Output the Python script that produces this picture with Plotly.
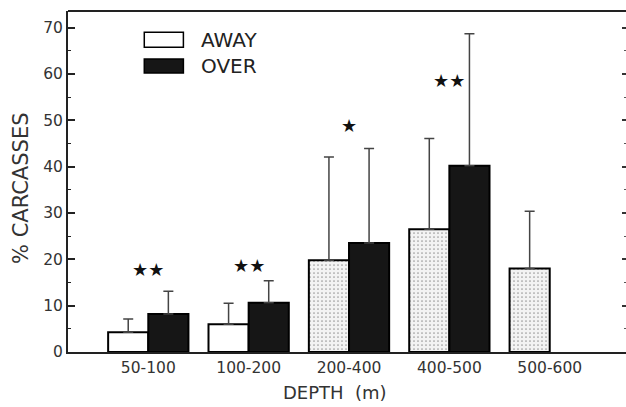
import plotly.graph_objects as go

categories = ["50-100", "100-200", "200-400", "400-500", "500-600"]
away = [4.25, 6.0, 19.8, 26.5, 18.0]
away_err_top = [7.1, 10.5, 42.1, 46.1, 30.4]
over = [8.2, 10.65, 23.5, 40.2, None]
over_err_top = [13.1, 15.4, 43.9, 68.7, None]
signif = ["★★", "★★", "★", "★★", ""]
signif_y = [17.7, 18.6, 48.8, 58.7, 0]

away_plus = [t - v for t, v in zip(away_err_top, away)]
over_plus = [(t - v) if v is not None else None for t, v in zip(over_err_top, over)]
xi = list(range(len(categories)))

FONT = "DejaVu Sans, Verdana, sans-serif"

fig = go.Figure()
fig.add_trace(go.Bar(
    x=xi, y=away, name="AWAY",
    marker=dict(color=["white", "white", "#f3f3f3", "#f3f3f3", "#f3f3f3"],
                line=dict(color="black", width=2),
                pattern=dict(shape=["", "", ".", ".", "."], fgcolor="#c4c4c4",
                             bgcolor="#f7f7f7", size=4, solidity=0.15)),
    error_y=dict(type="data", array=away_plus, arrayminus=[0]*5, symmetric=False,
                 color="#444", thickness=1.5, width=5),
))
fig.add_trace(go.Bar(
    x=xi, y=over, name="OVER",
    marker=dict(color="#161616", line=dict(color="black", width=2)),
    error_y=dict(type="data", array=over_plus, arrayminus=[0]*5, symmetric=False,
                 color="#444", thickness=1.5, width=5),
))
# invisible trace for right-hand tick axis
fig.add_trace(go.Scatter(x=[0], y=[0], yaxis="y2", mode="markers",
                         marker=dict(opacity=0), hoverinfo="skip", showlegend=False))

for i, (s, yv) in enumerate(zip(signif, signif_y)):
    if s:
        fig.add_annotation(x=xi[i], y=yv, text=s, showarrow=False,
                           font=dict(family="DejaVu Sans", size=18, color="#111"))

# legend drawn manually
fig.add_shape(type="rect", xref="paper", yref="paper", x0=0.1367, x1=0.2068,
              y0=0.894, y1=0.938, line=dict(color="black", width=1.5), fillcolor="white")
fig.add_shape(type="rect", xref="paper", yref="paper", x0=0.1367, x1=0.2068,
              y0=0.818, y1=0.859, line=dict(color="black", width=1.5), fillcolor="#161616")
fig.add_annotation(xref="paper", yref="paper", x=0.234, y=0.916, text="AWAY",
                   showarrow=False, xanchor="left", yanchor="middle",
                   font=dict(family=FONT, size=20, color="#222"))
fig.add_annotation(xref="paper", yref="paper", x=0.234, y=0.839, text="OVER",
                   showarrow=False, xanchor="left", yanchor="middle",
                   font=dict(family=FONT, size=20, color="#222"))
# axis titles
fig.add_annotation(xref="paper", yref="paper", x=0.478, y=-0.120, text="DEPTH\u00a0 (m)",
                   showarrow=False, xanchor="center", yanchor="middle",
                   font=dict(family=FONT, size=18, color="#333"))
fig.add_annotation(xref="paper", yref="paper", x=-0.0842, y=0.481, text="% CARCASSES",
                   showarrow=False, xanchor="center", yanchor="middle", textangle=-90,
                   font=dict(family=FONT, size=21, color="#333"))
# top frame line
fig.add_shape(type="line", xref="paper", yref="paper", x0=0, x1=1, y0=1, y1=1,
              line=dict(color="#222", width=2))

fig.update_layout(
    width=626, height=407,
    margin=dict(l=68, r=0, t=11, b=55),
    paper_bgcolor="white", plot_bgcolor="white",
    barmode="group", bargap=0.2, bargroupgap=0,
    showlegend=False,
    font=dict(family=FONT, color="#333"),
    xaxis=dict(range=[-0.8, 4.76], tickmode="array", tickvals=xi, ticktext=categories,
               showline=True, linecolor="#222", linewidth=2, ticks="",
               showgrid=False, zeroline=False,
               tickfont=dict(size=15.5, color="#333")),
    yaxis=dict(range=[0, 73.6], dtick=10, tick0=0, showline=True, linecolor="#222",
               linewidth=2, ticks="inside", ticklen=7, tickwidth=1.5, tickcolor="#222",
               minor=dict(dtick=5, ticks="inside", ticklen=3, tickcolor="#222", tickwidth=1),
               showgrid=False, zeroline=False,
               tickfont=dict(size=15.5, color="#333")),
    yaxis2=dict(range=[0, 73.6], overlaying="y", side="right", dtick=10, tick0=0,
                showline=False, ticks="inside", ticklen=4, tickwidth=1.5, tickcolor="#333",
                minor=dict(dtick=5, ticks="inside", ticklen=2, tickcolor="#555", tickwidth=1),
                showticklabels=False, showgrid=False, zeroline=False),
)

fig.write_html("out.html")
